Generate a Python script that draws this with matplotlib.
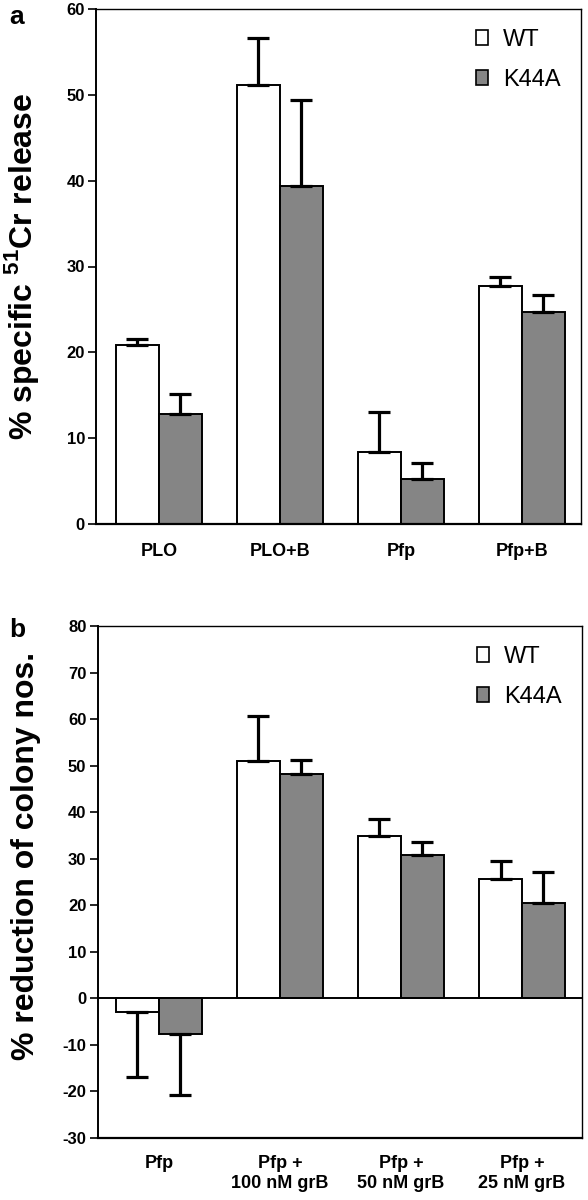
import matplotlib
matplotlib.use("Agg")
import matplotlib.pyplot as plt
import numpy as np
from matplotlib.patches import Patch

plt.rcParams['font.family'] = ['Liberation Sans', 'DejaVu Sans']
plt.rcParams['mathtext.fontset'] = 'custom'
plt.rcParams['mathtext.rm'] = 'Liberation Sans'
plt.rcParams['mathtext.bf'] = 'Liberation Sans:bold'

# Panel a data
cats_a = ["PLO", "PLO+B", "Pfp", "Pfp+B"]
wt_a = [20.9, 51.2, 8.4, 27.7]
wt_a_err = [0.7, 5.4, 4.6, 1.1]
k44a_a = [12.8, 39.4, 5.2, 24.7]
k44a_a_err = [2.4, 10.0, 1.9, 2.0]

# Panel b data
cats_b = ["Pfp", "Pfp +\n100 nM grB", "Pfp +\n50 nM grB", "Pfp +\n25 nM grB"]
wt_b = [-3.0, 51.1, 34.9, 25.7]
wt_b_err = [14.0, 9.6, 3.7, 3.8]
k44a_b = [-7.7, 48.3, 30.9, 20.4]
k44a_b_err = [13.0, 3.0, 2.8, 6.8]

yticks_a = [0, 10, 20, 30, 40, 50, 60]
yticks_b = [-30, -20, -10, 0, 10, 20, 30, 40, 50, 60, 70, 80]

GREY = '#858585'
W = 0.355

fig = plt.figure(figsize=(5.88, 12), dpi=100)
ax1 = fig.add_axes([96/588, 1-524/1200, 485/588, 515/1200])
ax2 = fig.add_axes([97.5/588, 1-1138/1200, 484.5/588, 512/1200])


def draw(ax, cats, wt, wte, k, ke, yt, xlim, xpad):
    x = np.arange(len(cats))
    ax.bar(x - W/2, wt, W, color='white', edgecolor='black', linewidth=1.4, zorder=2)
    ax.bar(x + W/2, k, W, color=GREY, edgecolor='black', linewidth=1.4, zorder=2)
    for xs, vals, errs in ((x - W/2, wt, wte), (x + W/2, k, ke)):
        for xi, v, e in zip(xs, vals, errs):
            if v >= 0:
                yerr = [[0], [e]]
            else:
                yerr = [[e], [0]]
            ax.errorbar([xi], [v], yerr=yerr, fmt='none', ecolor='black',
                        elinewidth=2.3, capsize=8, capthick=2.3, zorder=3)
    ax.set_xlim(*xlim)
    ax.set_ylim(yt[0], yt[-1])
    ax.set_yticks(yt)
    ax.set_yticklabels([str(v) for v in yt], fontsize=12, fontweight='bold')
    ax.set_xticks(x)
    ax.set_xticklabels(cats, fontsize=13, fontweight='bold', linespacing=1.25)
    ax.tick_params(axis='x', length=0, pad=xpad)
    ax.tick_params(axis='y', direction='out', length=6, width=1.2, pad=2)
    for s in ax.spines.values():
        s.set_linewidth(1.0)
    ax.spines['left'].set_linewidth(1.4)
    ax.spines['bottom'].set_linewidth(1.6)
    handles = [Patch(facecolor='white', edgecolor='black', linewidth=1.2, label='WT'),
               Patch(facecolor=GREY, edgecolor='black', linewidth=1.2, label='K44A')]
    ax.legend(handles=handles, loc='upper right', frameon=False, fontsize=17,
              handlelength=0.5, handleheight=0.6, handletextpad=0.65,
              labelspacing=0.75, borderaxespad=0.45)


draw(ax1, cats_a, wt_a, wt_a_err, k44a_a, k44a_a_err, yticks_a, (-0.52, 3.488), 14)
draw(ax2, cats_b, wt_b, wt_b_err, k44a_b, k44a_b_err, yticks_b, (-0.508, 3.496), 12)
ax2.axhline(0, color='black', linewidth=1.4, zorder=4)

ax1.set_ylabel(r'% specific $^{\mathbf{51}}$Cr release', fontsize=23, fontweight='bold')
ax2.set_ylabel('% reduction of colony nos.', fontsize=23, fontweight='bold')
ax1.yaxis.set_label_coords(-0.113, 0.5)
ax2.yaxis.set_label_coords(-0.117, 0.55)

fig.text(9/588, 1-17/1200, 'a', fontsize=19, fontweight='bold', va='center', ha='left')
fig.text(9/588, 1-630/1200, 'b', fontsize=19, fontweight='bold', va='center', ha='left')

fig.savefig('out.png', dpi=100)
